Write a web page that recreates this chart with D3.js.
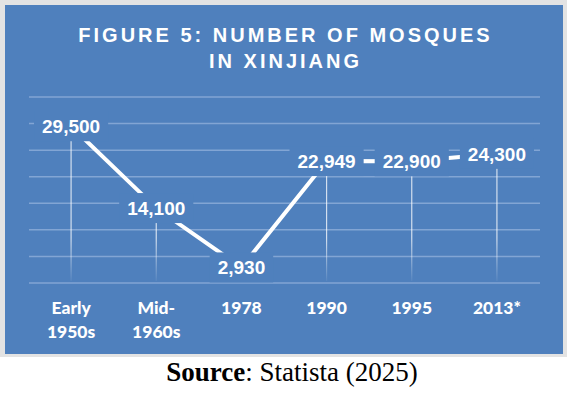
<!DOCTYPE html>
<html>
<head>
<meta charset="utf-8">
<script src="https://cdn.jsdelivr.net/npm/d3@7"></script>
<style>
  html, body { margin: 0; padding: 0; background: #ffffff; }
  svg { display: block; }
</style>
</head>
<body>
<div id="chart"></div>
<script>
// chart data
const categories = ['Early 1950s', 'Mid-1960s', '1978', '1990', '1995', '2013*'];
const categoryLines = [['Early', '1950s'], ['Mid-', '1960s'], ['1978'], ['1990'], ['1995'], ['2013*']];
const mosques = [29500, 14100, 2930, 22949, 22900, 24300];
const gridTicks = [0, 5000, 10000, 15000, 20000, 25000, 30000, 35000];
const titleLines = ['FIGURE 5: NUMBER OF MOSQUES', 'IN XINJIANG'];

const width = 567;
const height = 397;
const blue = '#4f80bd';

const svg = d3.select('#chart').append('svg')
    .attr('width', width)
    .attr('height', height);

// gray frame + blue panel
svg.append('rect')
    .attr('x', 0).attr('y', 0)
    .attr('width', width).attr('height', 357)
    .attr('fill', '#e3e3e3');
svg.append('rect')
    .attr('x', 5).attr('y', 5)
    .attr('width', 558).attr('height', 349)
    .attr('fill', blue);

// title, letter spaced to fill the same width as the picture
const titleSize = 20;
const titleSpacing = 3.0;
titleLines.forEach((t, i) => {
    const txt = svg.append('text')
        .attr('y', 42 + i * 26)
        .style('font-family', '"Liberation Sans", Arial, sans-serif')
        .style('font-weight', 'bold')
        .style('font-size', titleSize + 'px')
        .style('letter-spacing', titleSpacing + 'px')
        .style('fill', '#ffffff')
        .text(t);
    const w = txt.node().getComputedTextLength() - titleSpacing;
    txt.attr('x', 284 - w / 2);
});

// scales
const x = d3.scaleBand()
    .domain(categories)
    .range([28.5, 539.5]);
const y = d3.scaleLinear()
    .domain([0, 35000])
    .range([283, 97]);
const cx = d => x(d) + x.bandwidth() / 2;

// gridlines
svg.append('g').selectAll('line')
    .data(gridTicks)
    .enter().append('line')
    .attr('x1', 29)
    .attr('x2', 540)
    .attr('y1', d => y(d))
    .attr('y2', d => y(d))
    .style('stroke', '#82a5d4')
    .style('stroke-width', 1.5);

// fading drop lines
const defs = svg.append('defs');
const grad = defs.append('linearGradient')
    .attr('id', 'dropFade')
    .attr('gradientUnits', 'userSpaceOnUse')
    .attr('x1', 0).attr('x2', 0)
    .attr('y1', y(0) - 45).attr('y2', y(0) - 2);
grad.append('stop').attr('offset', 0).attr('stop-color', '#ffffff').attr('stop-opacity', 0.75);
grad.append('stop').attr('offset', 1).attr('stop-color', '#ffffff').attr('stop-opacity', 0.05);

svg.append('g').selectAll('line')
    .data(mosques)
    .enter().append('line')
    .attr('x1', (d, i) => cx(categories[i]))
    .attr('x2', (d, i) => cx(categories[i]))
    .attr('y1', d => y(d))
    .attr('y2', y(0) - 2)
    .style('stroke', 'url(#dropFade)')
    .style('stroke-width', 1.2);

// the data line
const line = d3.line()
    .x((d, i) => cx(categories[i]))
    .y(d => y(d));
svg.append('path')
    .datum(mosques)
    .attr('d', line)
    .style('fill', 'none')
    .style('stroke', '#ffffff')
    .style('stroke-width', 4);

// data labels sit on the points with a blue box behind them
const fmt = d3.format(',');
const labels = svg.append('g').selectAll('g')
    .data(mosques)
    .enter().append('g')
    .attr('transform', (d, i) => `translate(${cx(categories[i])},${y(d)})`);
labels.append('rect');
labels.append('text')
    .attr('text-anchor', 'middle')
    .attr('dy', '0.36em')
    .style('font-family', '"Liberation Sans", Arial, sans-serif')
    .style('font-weight', 'bold')
    .style('font-size', '19px')
    .style('fill', '#ffffff')
    .text(d => fmt(d));
labels.each(function () {
    const g = d3.select(this);
    const w = g.select('text').node().getComputedTextLength() + 16;
    g.select('rect')
        .attr('x', -w / 2)
        .attr('y', -15)
        .attr('width', w)
        .attr('height', 30)
        .attr('fill', blue);
});

// category labels
const cats = svg.append('g').selectAll('text')
    .data(categories)
    .enter().append('text')
    .attr('text-anchor', 'middle')
    .attr('x', d => cx(d))
    .attr('y', 314)
    .style('font-family', 'Lato, "Open Sans", sans-serif')
    .style('font-weight', 900)
    .style('font-size', '17.5px')
    .style('fill', '#ffffff');
cats.selectAll('tspan')
    .data((d, i) => categoryLines[i])
    .enter().append('tspan')
    .attr('x', function () { return this.parentNode.getAttribute('x'); })
    .attr('dy', (d, i) => i === 0 ? 0 : 24)
    .text(d => d);

// source line
const src = svg.append('text')
    .attr('x', 292)
    .attr('y', 381)
    .attr('text-anchor', 'middle')
    .style('font-family', '"Liberation Serif", "Times New Roman", serif')
    .style('font-size', '27px')
    .style('fill', '#000000');
src.append('tspan').style('font-weight', 'bold').text('Source');
src.append('tspan').text(': Statista (2025)');
</script>
</body>
</html>
